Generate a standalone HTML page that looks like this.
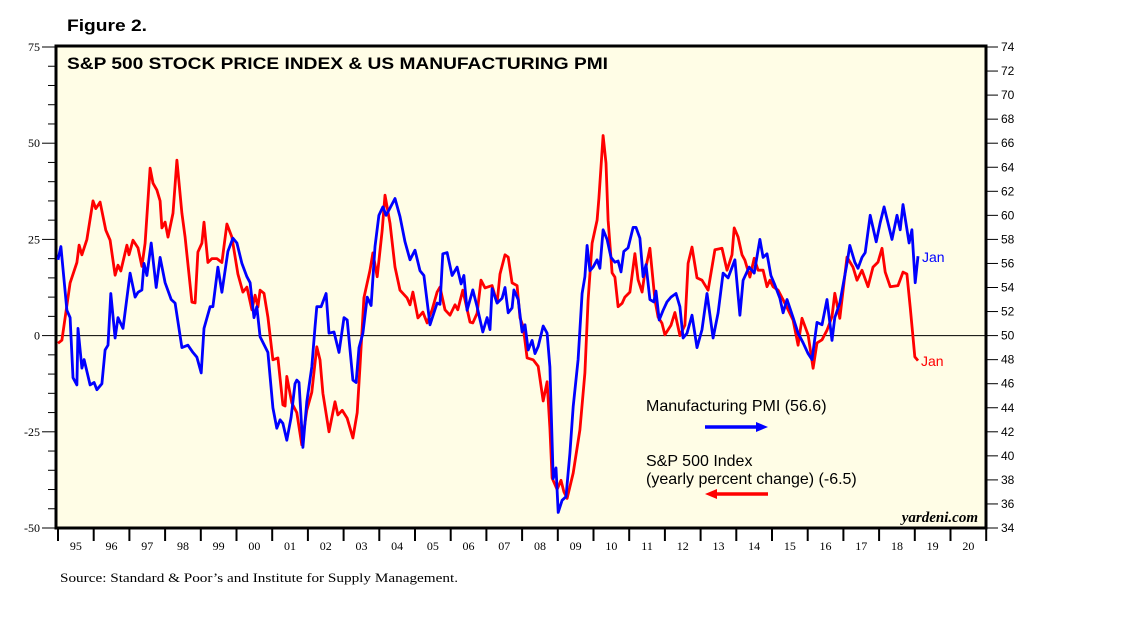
<!DOCTYPE html>
<html><head><meta charset="utf-8"><style>
body{margin:0;background:#fff;width:1138px;height:621px;overflow:hidden}
svg{display:block}
</style></head><body>
<svg id="chart" width="1138" height="621" xmlns="http://www.w3.org/2000/svg">
<text x="67" y="31" font-family="Liberation Sans, sans-serif" font-weight="bold" font-size="17" textLength="80" lengthAdjust="spacingAndGlyphs">Figure 2.</text>
<rect x="56" y="46" width="930" height="482" fill="#fffde6" stroke="#000" stroke-width="3"/>
<text x="67" y="69" font-family="Liberation Sans, sans-serif" font-weight="bold" font-size="17" textLength="541" lengthAdjust="spacingAndGlyphs">S&amp;P 500 STOCK PRICE INDEX &amp; US MANUFACTURING PMI</text>
<g id="axes"></g>
<g id="series"></g>
<text x="646" y="411" font-family="Liberation Sans, sans-serif" font-size="16">Manufacturing PMI (56.6)</text>
<line x1="705" y1="427" x2="758" y2="427" stroke="#0000ff" stroke-width="3.5"/>
<polygon points="756,422 768,427 756,432" fill="#0000ff"/>
<text x="646" y="466" font-family="Liberation Sans, sans-serif" font-size="16">S&amp;P 500 Index</text>
<text x="646" y="484" font-family="Liberation Sans, sans-serif" font-size="16">(yearly percent change) (-6.5)</text>
<line x1="715" y1="494" x2="768" y2="494" stroke="#ff0000" stroke-width="3.5"/>
<polygon points="717,489 705,494 717,499" fill="#ff0000"/>
<text x="922" y="262" font-family="Liberation Sans, sans-serif" font-size="14" fill="#0000ff">Jan</text>
<text x="921" y="366" font-family="Liberation Sans, sans-serif" font-size="14" fill="#ff0000">Jan</text>
<text x="978" y="522" text-anchor="end" font-family="Liberation Serif, serif" font-style="italic" font-weight="bold" font-size="15">yardeni.com</text>
<text x="60" y="582" font-family="Liberation Serif, serif" font-size="13" textLength="398" lengthAdjust="spacingAndGlyphs">Source: Standard &amp; Poor’s and Institute for Supply Management.</text>
</svg>
<script>
const spDates=[1995.0,1995.11,1995.34,1995.53,1995.59,1995.67,1995.81,1995.98,1996.06,1996.18,1996.34,1996.46,1996.60,1996.68,1996.76,1996.93,1996.99,1997.10,1997.24,1997.35,1997.44,1997.58,1997.66,1997.77,1997.86,1997.91,1998.00,1998.08,1998.22,1998.33,1998.47,1998.56,1998.75,1998.84,1998.92,1999.03,1999.09,1999.20,1999.31,1999.45,1999.59,1999.73,1999.87,2000.04,2000.18,2000.29,2000.43,2000.52,2000.60,2000.66,2000.77,2000.88,2001.02,2001.16,2001.30,2001.36,2001.41,2001.55,2001.69,2001.83,2001.97,2002.11,2002.25,2002.34,2002.42,2002.59,2002.76,2002.84,2002.96,2003.10,2003.26,2003.38,2003.46,2003.57,2003.74,2003.82,2003.94,2004.08,2004.16,2004.30,2004.44,2004.58,2004.78,2004.86,2004.94,2005.08,2005.22,2005.34,2005.48,2005.62,2005.70,2005.84,2005.98,2006.12,2006.20,2006.34,2006.54,2006.62,2006.74,2006.85,2006.96,2007.16,2007.30,2007.38,2007.52,2007.61,2007.72,2007.86,2007.94,2008.03,2008.14,2008.31,2008.45,2008.59,2008.70,2008.78,2008.84,2008.98,2009.09,2009.17,2009.26,2009.43,2009.62,2009.76,2009.85,2009.96,2010.10,2010.15,2010.27,2010.35,2010.41,2010.52,2010.60,2010.69,2010.80,2010.88,2011.02,2011.16,2011.25,2011.36,2011.44,2011.58,2011.72,2011.81,2011.92,2012.00,2012.17,2012.28,2012.42,2012.56,2012.65,2012.76,2012.90,2013.04,2013.21,2013.40,2013.60,2013.74,2013.88,2013.94,2014.05,2014.16,2014.24,2014.38,2014.50,2014.61,2014.75,2014.86,2014.94,2015.03,2015.17,2015.31,2015.45,2015.59,2015.73,2015.84,2016.01,2016.15,2016.26,2016.40,2016.54,2016.68,2016.76,2016.90,2017.10,2017.27,2017.38,2017.52,2017.69,2017.83,2017.97,2018.08,2018.17,2018.31,2018.53,2018.67,2018.78,2018.87,2018.95,2019.00,2019.09];
const spValues=[-2,-1.2,13.7,19,23.5,21,25,35,33,34.7,27.4,24.8,15.7,18.3,16.8,23.5,21,24.8,22.8,18,24,43.5,39.6,37.8,35,28,29.5,25.6,31.8,45.6,31.8,25.6,8.7,8.5,21.7,24,29.5,19,20,20,19,29,25.6,16,11.3,12.6,6.7,10.5,7.4,11.8,11,4.8,-6.3,-5.8,-18,-18.3,-10.6,-17.5,-20,-28.4,-19.4,-14.7,-2.9,-6.3,-15,-25,-17.2,-20.6,-19.4,-21.5,-26.6,-20,-8,9.8,17,21.5,15.3,27.4,36.5,29.2,17.8,11.8,9.8,8,11.3,4.6,6.1,3.3,6.7,11.3,12.6,6.7,5.3,8,6.7,11.8,3.5,3.3,5.8,14.4,12.4,13,8.5,16,21,20.4,13.7,13,4.6,2.3,-5.8,-6.3,-8,-17,-12,-24,-37,-40,-37.6,-40.6,-42.3,-35.7,-24.5,-9.7,9.2,24,30,35.7,52,44.8,30,16.3,15.2,7.5,8.4,10,11.3,21.3,14.5,11.3,16.5,22.7,9.3,4.8,3.2,0.2,2.7,6,0,2.7,18.8,23,15,14.4,11.8,22.3,22.7,17,21,28,25.6,21,19.6,15.2,20.1,17,17,12.7,14.4,12.7,11.8,9.3,6.7,4,-2.5,4.5,0.2,-8.5,-1.9,-1.1,1.4,4.9,11,4.5,20.4,17.8,14.4,17,12.7,17.8,19.1,22.7,16.5,12.7,13,16.5,16,7.4,-0.4,-5.5,-6.5];
const pmiDates=[1995.00,1995.08,1995.25,1995.34,1995.42,1995.53,1995.56,1995.67,1995.73,1995.90,1996.01,1996.09,1996.23,1996.32,1996.40,1996.48,1996.60,1996.68,1996.82,1997.02,1997.16,1997.24,1997.35,1997.41,1997.49,1997.61,1997.75,1997.86,1998.00,1998.17,1998.28,1998.47,1998.64,1998.78,1998.89,1999.01,1999.09,1999.26,1999.34,1999.48,1999.59,1999.76,1999.90,2000.01,2000.15,2000.29,2000.38,2000.49,2000.57,2000.66,2000.88,2001.02,2001.13,2001.22,2001.30,2001.41,2001.53,2001.64,2001.69,2001.75,2001.86,2001.97,2002.11,2002.20,2002.25,2002.37,2002.51,2002.59,2002.73,2002.87,2003.01,2003.10,2003.26,2003.35,2003.43,2003.54,2003.66,2003.77,2003.88,2003.99,2004.10,2004.19,2004.30,2004.44,2004.58,2004.72,2004.86,2005.00,2005.14,2005.25,2005.42,2005.62,2005.70,2005.78,2005.90,2006.04,2006.18,2006.29,2006.37,2006.46,2006.62,2006.74,2006.90,2007.02,2007.10,2007.16,2007.30,2007.44,2007.52,2007.61,2007.72,2007.77,2007.89,2008.00,2008.08,2008.17,2008.28,2008.36,2008.45,2008.59,2008.70,2008.78,2008.87,2008.95,2009.01,2009.12,2009.23,2009.34,2009.43,2009.57,2009.68,2009.76,2009.82,2009.90,2009.99,2010.10,2010.18,2010.27,2010.38,2010.49,2010.60,2010.69,2010.77,2010.85,2010.97,2011.11,2011.19,2011.30,2011.39,2011.47,2011.58,2011.69,2011.75,2011.84,2011.95,2012.06,2012.17,2012.31,2012.42,2012.51,2012.62,2012.76,2012.90,2013.04,2013.18,2013.35,2013.49,2013.63,2013.77,2013.96,2014.10,2014.19,2014.36,2014.50,2014.66,2014.75,2014.86,2014.97,2015.08,2015.22,2015.31,2015.42,2015.59,2015.73,2015.87,2016.01,2016.12,2016.26,2016.40,2016.54,2016.68,2016.76,2016.90,2017.10,2017.18,2017.32,2017.41,2017.52,2017.61,2017.75,2017.92,2018.03,2018.14,2018.36,2018.50,2018.59,2018.67,2018.84,2018.92,2019.01,2019.09];
const pmiValues=[56.3,57.4,52.1,51.5,46.5,45.9,50.6,47.3,48,45.9,46.1,45.5,46,48.8,49.2,53.5,49.8,51.5,50.6,55.2,53.2,53.6,53.8,56,55,57.7,54,56.5,54.4,53,52.7,49,49.2,48.6,48.2,46.9,50.6,52.4,52.4,55.7,53.6,57,58.1,57.7,56,54.9,54.4,51.5,52.4,49.9,48.6,44,42.3,43,42.7,41.3,43.2,46,46.3,46.1,40.7,44.5,47.4,50.7,52.4,52.4,53.5,50.2,50.3,48.6,51.5,51.3,46.3,46.1,49,50.2,53.2,52.5,57.4,60,60.7,60,60.6,61.4,59.9,57.8,56.3,57.1,55.4,55,50.9,52.7,52.6,56.8,56.9,55,55.7,54.3,55,52.1,53.8,52.4,50.3,51.5,50.5,53.9,52.7,53.1,54,51.9,52.3,53.8,53,50.3,50.9,48.8,49.6,48.5,49.1,50.8,50.2,47.4,38.1,39,35.3,36.3,36.6,40.2,44.1,48,53.5,54.9,57.5,55.4,55.7,56.3,55.6,58.8,58,56.5,56.1,56.2,55.3,57,57.3,59,59,58.1,54.9,55.9,53,52.8,53.7,51.3,52.1,52.8,53.2,53.5,52.4,49.8,50.2,51.7,49,50.5,53.5,49.8,51.9,55.2,54.8,56.3,51.7,54.6,55.7,55.2,58,56.5,56.8,55,54.2,53.1,51.9,53,51.5,50.2,49.4,48.5,48,51.1,50.9,53,49.6,51.5,52.7,56,57.5,56.1,55.6,56.5,56.9,60,57.8,59.4,60.7,58,60,58.8,60.9,57.7,58.8,54.4,56.6];
const leftTicks=[75,50,25,0,-25,-50];
const rightTicks=[74,72,70,68,66,64,62,60,58,56,54,52,50,48,46,44,42,40,38,36,34];
const yearLabels=["95","96","97","98","99","00","01","02","03","04","05","06","07","08","09","10","11","12","13","14","15","16","17","18","19","20"];

const NS="http://www.w3.org/2000/svg";
const X0=58,YW=35.7,TOP=47,BOT=528;
const xS=y=>X0+(y-1995)*YW;
const yL=v=>TOP+(75-v)*(BOT-TOP)/125;
const yR=v=>TOP+(74-v)*(BOT-TOP)/40;
function mk(tag,attrs,parent){const e=document.createElementNS(NS,tag);for(const k in attrs)e.setAttribute(k,attrs[k]);parent.appendChild(e);return e;}
const axes=document.getElementById('axes'),ser=document.getElementById('series');

for(let v=-50;v<=75;v+=5){
  const major=v%25===0;
  const t=mk('line',{x1:major?42:48,x2:55,y1:yL(v),y2:yL(v),stroke:'#000','stroke-width':1},axes);
  
  
}
leftTicks.forEach(v=>{
  const t=mk('text',{x:40,y:yL(v)+4,'text-anchor':'end','font-family':'Liberation Serif, serif','font-size':12},axes);
  t.textContent=v;
  
  
});
rightTicks.forEach(v=>{
  const l=mk('line',{x1:987,x2:998,y1:yR(v),y2:yR(v),stroke:'#000','stroke-width':1},axes);
  
  
  const t=mk('text',{x:1001,y:yR(v)+4,'font-family':'Liberation Sans, sans-serif','font-size':12},axes);
  t.textContent=v;
  
  
});
for(let i=0;i<=yearLabels.length;i++){
  const l=mk('line',{x1:xS(1995+i),x2:xS(1995+i),y1:529,y2:541,stroke:'#000','stroke-width':2},axes);
  
  
}
yearLabels.forEach((s,i)=>{
  const t=mk('text',{x:xS(1995+i+0.5),y:550,'text-anchor':'middle','font-family':'Liberation Serif, serif','font-size':12},axes);
  t.textContent=s;
  
  
});
const z=mk('line',{x1:57,x2:985,y1:yL(0),y2:yL(0),stroke:'#000','stroke-width':1},axes);



const sp=mk('polyline',{points:spDates.map((d,i)=>xS(d).toFixed(1)+','+yL(spValues[i]).toFixed(1)).join(' '),fill:'none',stroke:'#ff0000','stroke-width':2.8,'stroke-linejoin':'round'},ser);


const pm=mk('polyline',{points:pmiDates.map((d,i)=>xS(d).toFixed(1)+','+yR(pmiValues[i]).toFixed(1)).join(' '),fill:'none',stroke:'#0000ff','stroke-width':2.8,'stroke-linejoin':'round'},ser);


</script>
</body></html>
